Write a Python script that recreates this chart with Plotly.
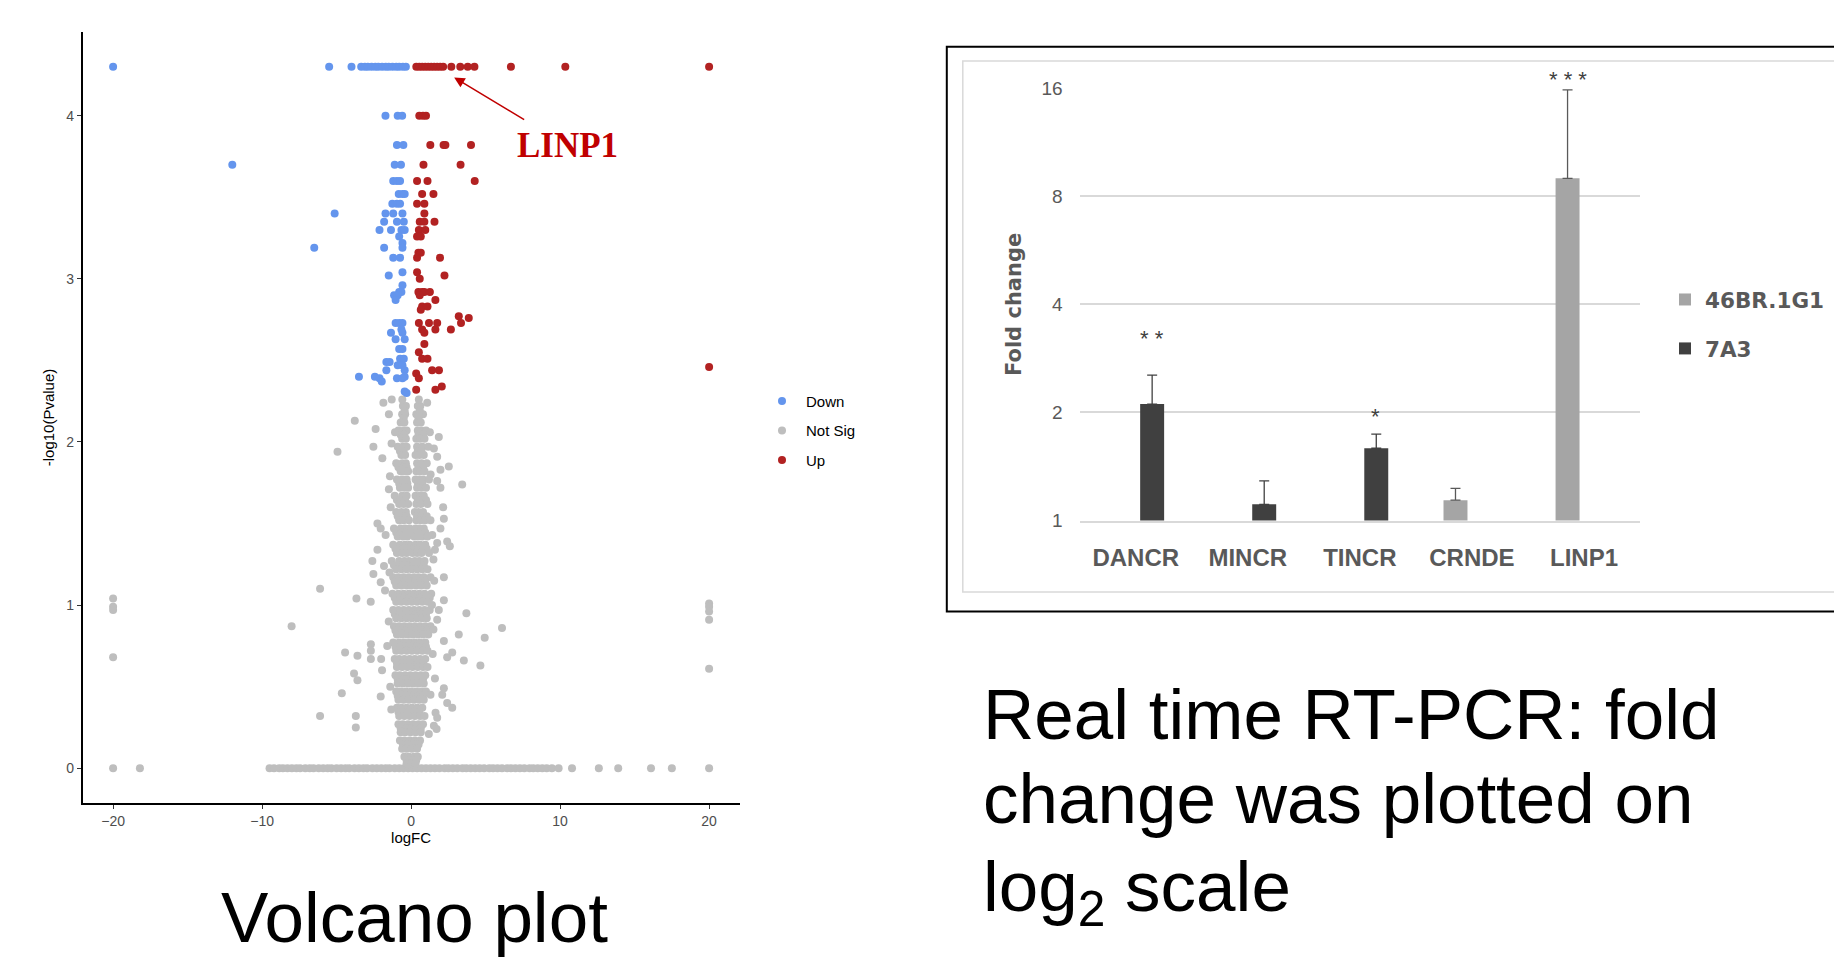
import math
import plotly.graph_objects as go

# ---------------- Volcano plot data ----------------
# Down-regulated (blue) points: (logFC, -log10 P)
down_pts = [
    (-20, 4.30), (-5.5, 4.30), (-4.0, 4.30), (-3.35, 4.30), (-3.1, 4.30), (-2.9, 4.30),
    (-2.65, 4.30), (-2.4, 4.30), (-2.2, 4.30), (-1.95, 4.30), (-1.7, 4.30), (-1.5, 4.30),
    (-1.25, 4.30), (-1.0, 4.30), (-0.8, 4.30), (-0.55, 4.30), (-0.35, 4.30),
    (-1.72, 4.0), (-0.9, 4.0), (-0.6, 4.0),
    (-0.95, 3.82), (-0.52, 3.82),
    (-12.0, 3.70), (-1.1, 3.70), (-0.68, 3.70),
    (-1.2, 3.60), (-0.95, 3.60), (-0.74, 3.60),
    (-0.83, 3.52), (-0.58, 3.52), (-0.43, 3.52),
    (-1.26, 3.46), (-0.95, 3.46), (-0.74, 3.46),
    (-5.13, 3.40), (-1.72, 3.40), (-1.2, 3.40), (-0.58, 3.40),
    (-1.81, 3.35), (-0.95, 3.35), (-0.49, 3.35),
    (-2.12, 3.30), (-1.35, 3.30), (-0.65, 3.30), (-0.43, 3.30),
    (-0.8, 3.26), (-0.58, 3.22),
    (-6.5, 3.19), (-1.81, 3.19), (-0.58, 3.19),
    (-1.2, 3.13), (-0.74, 3.13),
    (-0.58, 3.04), (-1.5, 3.02), (-0.58, 2.96),
    (-0.8, 2.92), (-0.65, 2.92), (-1.14, 2.90), (-0.9, 2.90), (-1.04, 2.87),
    (-1.04, 2.73), (-0.8, 2.73), (-0.58, 2.73), (-0.65, 2.69), (-1.35, 2.67), (-0.58, 2.67),
    (-1.04, 2.63), (-0.43, 2.63), (-0.8, 2.57), (-0.58, 2.57),
    (-0.74, 2.51), (-0.49, 2.51), (-1.66, 2.49), (-1.44, 2.49), (-0.9, 2.47), (-0.58, 2.47),
    (-1.66, 2.44), (-0.43, 2.44), (-3.5, 2.40), (-2.43, 2.40), (-0.43, 2.40),
    (-2.12, 2.39), (-0.95, 2.39), (-0.58, 2.39), (-1.97, 2.37), (-0.43, 2.31), (-0.3, 2.30),
]

# Up-regulated (red) points
up_pts = [
    (0.35, 4.30), (0.55, 4.30), (0.75, 4.30), (0.95, 4.30), (1.15, 4.30), (1.35, 4.30),
    (1.55, 4.30), (1.75, 4.30), (1.95, 4.30), (2.15, 4.30), (2.7, 4.30), (3.3, 4.30),
    (3.8, 4.30), (4.25, 4.30), (6.7, 4.30), (10.35, 4.30), (20, 4.30),
    (0.55, 4.0), (0.8, 4.0), (1.0, 4.0),
    (1.29, 3.82), (2.18, 3.82), (2.3, 3.82), (4.02, 3.82),
    (0.83, 3.70), (3.32, 3.70),
    (0.4, 3.60), (1.1, 3.60), (4.27, 3.60),
    (0.74, 3.52), (1.5, 3.52),
    (0.4, 3.46), (0.89, 3.46), (0.89, 3.40),
    (0.58, 3.35), (0.89, 3.35), (1.57, 3.35),
    (0.52, 3.30), (0.95, 3.30), (0.4, 3.26), (0.65, 3.26),
    (0.49, 3.16), (0.65, 3.16), (0.4, 3.13), (1.94, 3.13),
    (0.4, 3.04), (2.24, 3.02), (0.58, 3.0),
    (0.49, 2.92), (0.74, 2.92), (0.89, 2.92), (1.26, 2.92), (0.58, 2.90),
    (1.63, 2.87), (0.74, 2.83), (1.1, 2.83), (0.65, 2.81),
    (3.2, 2.77), (3.87, 2.76),
    (0.52, 2.73), (1.2, 2.73), (1.75, 2.73), (3.35, 2.73),
    (0.74, 2.69), (1.63, 2.69), (2.67, 2.69), (0.89, 2.67),
    (0.89, 2.60), (0.52, 2.55), (0.74, 2.51), (1.1, 2.51),
    (20, 2.46), (1.41, 2.44), (1.87, 2.44), (0.34, 2.42), (0.52, 2.39),
    (2.06, 2.34), (0.34, 2.32), (1.63, 2.32),
]

# Not significant (grey): the row at -log10 P = 0
ns_zero_x = [-20, -18.2, -9.5, -9.2, -8.85, -8.6, -8.3, -8.0, -7.7, -7.45, -7.1, -6.8,
             -6.55, -6.2, -5.9, -5.6, -5.35, -5.0, -4.7, -4.4, -4.15, -3.8, -3.5, -3.2,
             -2.95, -2.6, -2.3, -2.0, -1.7, -1.45, -1.1, -0.8, -0.5, -0.2, 0.1, 0.4,
             0.7, 1.0, 1.3, 1.6, 1.9, 2.25, 2.5, 2.8, 3.1, 3.45, 3.7, 4.0, 4.3, 4.6,
             4.9, 5.25, 5.5, 5.8, 6.1, 6.45, 6.7, 7.0, 7.3, 7.6, 7.95, 8.2, 8.5, 8.8,
             9.1, 9.45, 9.9, 10.8, 12.6, 13.9, 16.1, 17.5, 20]

# Not significant: dense central column, row by row (y, [x values])
ns_core_rows = [
    (2.22, [-0.55, -0.35, 0.45, 0.62]),
    (2.17, [-0.6, -0.4, 0.35, 0.55, 0.8]),
    (2.145, [-0.5, 0.5]),
    (2.12, [-0.7, -0.45, 0.4, 0.65]),
    (2.07, [-0.85, -0.5, -0.3, 0.45, 0.7, 1.0]),
    (2.045, [-0.7, -0.45, 0.5, 0.8]),
    (2.02, [-0.6, -0.35, 0.35, 0.6, 0.9]),
    (1.97, [-0.9, -0.55, -0.3, 0.4, 0.75, 1.15]),
    (1.945, [-0.75, -0.5, 0.45, 0.7]),
    (1.92, [-0.65, -0.4, 0.3, 0.55, 0.85]),
    (1.87, [-1.0, -0.6, -0.35, 0.4, 0.7, 1.05]),
    (1.845, [-0.85, -0.55, -0.3, 0.5, 0.8]),
    (1.82, [-0.7, -0.45, -0.2, 0.35, 0.6, 0.9]),
    (1.77, [-0.95, -0.6, -0.3, 0.3, 0.55, 0.8, 1.2]),
    (1.745, [-0.8, -0.55, -0.25, 0.45, 0.75]),
    (1.72, [-0.75, -0.45, -0.2, 0.4, 0.7, 1.0]),
    (1.67, [-1.1, -0.6, -0.3, 0.3, 0.6, 0.85]),
    (1.645, [-0.95, -0.7, -0.4, 0.45, 0.75, 1.0]),
    (1.62, [-0.8, -0.5, -0.2, 0.35, 0.65, 1.1]),
    (1.57, [-1.0, -0.65, -0.35, 0.25, 0.5, 0.8]),
    (1.545, [-0.9, -0.6, -0.3, 0.4, 0.7, 1.05]),
    (1.52, [-0.8, -0.5, -0.15, 0.35, 0.65, 0.95, 1.3]),
    (1.47, [-1.15, -0.7, -0.4, -0.1, 0.3, 0.55, 0.85]),
    (1.445, [-1.0, -0.65, -0.35, 0.0, 0.35, 0.65, 0.95]),
    (1.42, [-0.9, -0.55, -0.25, 0.2, 0.45, 0.75, 1.1]),
    (1.37, [-1.2, -0.75, -0.4, -0.1, 0.3, 0.6, 0.95]),
    (1.345, [-1.05, -0.8, -0.5, -0.2, 0.2, 0.5, 0.8, 1.05]),
    (1.32, [-0.95, -0.6, -0.3, 0.1, 0.4, 0.7, 1.2]),
    (1.27, [-1.3, -0.8, -0.45, -0.15, 0.25, 0.55, 0.9]),
    (1.245, [-1.15, -0.8, -0.5, -0.2, 0.15, 0.5, 0.85]),
    (1.22, [-1.0, -0.65, -0.3, 0.05, 0.4, 0.75, 1.1]),
    (1.17, [-1.2, -0.85, -0.5, -0.15, 0.2, 0.5, 0.85, 1.3]),
    (1.145, [-1.1, -0.8, -0.45, -0.1, 0.25, 0.6, 0.95]),
    (1.12, [-1.0, -0.65, -0.3, 0.0, 0.35, 0.7, 1.05]),
    (1.07, [-1.25, -0.85, -0.5, -0.15, 0.2, 0.55, 0.9, 1.35]),
    (1.045, [-1.1, -0.75, -0.45, -0.1, 0.25, 0.6, 1.0, 1.25]),
    (1.02, [-1.0, -0.65, -0.3, 0.05, 0.4, 0.75, 1.1]),
    (0.97, [-1.2, -0.85, -0.5, -0.15, 0.2, 0.55, 0.9, 1.25]),
    (0.945, [-1.1, -0.75, -0.4, -0.05, 0.3, 0.65, 1.0]),
    (0.92, [-1.0, -0.65, -0.3, 0.05, 0.4, 0.75, 1.05]),
    (0.87, [-1.15, -0.8, -0.45, -0.1, 0.25, 0.6, 0.95, 1.3]),
    (0.845, [-1.05, -0.7, -0.35, 0.0, 0.35, 0.7, 1.05]),
    (0.82, [-0.95, -0.6, -0.25, 0.1, 0.45, 0.8, 1.15]),
    (0.77, [-1.2, -0.8, -0.45, -0.1, 0.25, 0.6, 0.95]),
    (0.745, [-1.05, -0.7, -0.35, 0.0, 0.35, 0.7, 1.0]),
    (0.72, [-1.0, -0.65, -0.3, 0.05, 0.4, 0.75, 1.1]),
    (0.67, [-1.1, -0.8, -0.45, -0.1, 0.25, 0.6, 0.95]),
    (0.645, [-0.95, -0.6, -0.25, 0.1, 0.45, 0.8]),
    (0.62, [-0.95, -0.6, -0.25, 0.1, 0.45, 0.8, 1.1]),
    (0.57, [-1.05, -0.75, -0.4, -0.05, 0.3, 0.65, 0.95]),
    (0.545, [-0.9, -0.55, -0.2, 0.15, 0.5, 0.8]),
    (0.52, [-0.9, -0.55, -0.2, 0.15, 0.5, 0.85]),
    (0.47, [-1.0, -0.7, -0.35, 0.0, 0.35, 0.7, 1.0]),
    (0.445, [-0.9, -0.55, -0.2, 0.15, 0.5, 0.8]),
    (0.42, [-0.85, -0.5, -0.15, 0.2, 0.55, 0.85]),
    (0.37, [-0.95, -0.65, -0.3, 0.05, 0.4, 0.75]),
    (0.345, [-0.85, -0.5, -0.15, 0.2, 0.55]),
    (0.32, [-0.8, -0.45, -0.1, 0.25, 0.6, 0.9]),
    (0.27, [-0.85, -0.55, -0.2, 0.15, 0.5, 0.8]),
    (0.245, [-0.7, -0.35, 0.0, 0.35, 0.65]),
    (0.22, [-0.7, -0.4, -0.05, 0.3, 0.65]),
    (0.17, [-0.75, -0.45, -0.1, 0.25, 0.6]),
    (0.145, [-0.55, -0.2, 0.15, 0.5]),
    (0.12, [-0.6, -0.3, 0.05, 0.4]),
    (0.07, [-0.45, -0.15, 0.2, 0.45]),
    (0.05, [-0.3, 0.1, 0.35]),
    (0.03, [-0.3, 0.0, 0.3]),
]

# Not significant: scattered points
ns_scatter = [
    (-1.3, 2.26), (-1.86, 2.24), (-0.59, 2.26), (-0.43, 2.19), (0.52, 2.26), (0.59, 2.19),
    (1.08, 2.24), (-3.78, 2.13), (-2.38, 2.08), (-1.49, 2.17), (-1.08, 2.06), (-4.94, 1.94),
    (-2.53, 1.97), (-1.31, 1.99), (1.26, 2.06), (1.86, 2.03), (1.53, 1.96), (1.75, 1.91),
    (2.53, 1.85), (3.43, 1.74), (-1.93, 1.90), (-1.42, 1.79), (-1.49, 1.71), (1.31, 1.80),
    (1.97, 1.83), (1.75, 1.76), (1.97, 1.72), (-1.37, 1.60), (2.15, 1.60), (2.2, 1.53),
    (-2.26, 1.50), (-2.04, 1.47), (-1.71, 1.43), (1.97, 1.47), (1.42, 1.43), (2.42, 1.39),
    (2.6, 1.36), (1.75, 1.38), (1.6, 1.34), (1.5, 1.28), (-2.26, 1.34), (-2.6, 1.27),
    (-2.53, 1.19), (-1.82, 1.24), (2.2, 1.17), (-2.04, 1.14), (-1.75, 1.09), (-3.67, 1.04),
    (-2.71, 1.02), (2.2, 1.03), (3.71, 0.95), (1.86, 0.97), (1.75, 0.91), (6.1, 0.86),
    (4.94, 0.80), (3.2, 0.82), (2.2, 0.78), (-4.43, 0.71), (-3.6, 0.69), (-2.7, 0.76),
    (-2.7, 0.72), (-2.7, 0.67), (-2.01, 0.67), (-1.95, 0.60), (2.76, 0.71), (2.42, 0.68),
    (3.54, 0.66), (4.65, 0.63), (-3.83, 0.58), (-3.6, 0.54), (-4.65, 0.46), (-2.04, 0.44),
    (-1.33, 0.36), (-3.71, 0.32), (-3.71, 0.25), (2.2, 0.49), (2.09, 0.45), (2.42, 0.40),
    (2.76, 0.37), (1.64, 0.34), (1.75, 0.31), (1.53, 0.26), (1.71, 0.24), (1.19, 0.21),
    (-8.02, 0.87), (-6.11, 1.10), (-6.11, 0.32), (1.4, 1.0), (1.5, 0.85), (1.45, 0.7),
    (-1.5, 0.9), (-1.6, 0.75), (-1.45, 1.2), (1.55, 1.15), (1.6, 0.55), (-1.4, 0.5),
    (1.3, 0.45),
    (-20, 1.04), (-20, 0.99), (-20, 0.97), (-20, 0.68),
    (20, 1.01), (20, 0.99), (20, 0.96), (20, 0.91), (20, 0.61),
]

# ---------------- Real time RT-PCR data (fold change, log2 axis) ----------------
genes = ["DANCR", "MINCR", "TINCR", "CRNDE", "LINP1"]
fc_46br = [None, None, None, 1.14, 8.97]
err_46br = [None, None, None, 0.09, 6.84]
fc_7a3 = [2.11, 1.11, 1.59, None, None]
err_7a3 = [0.43, 0.18, 0.15, None, None]
fold_ticks = [1, 2, 4, 8, 16]
# (gene, label, fold-change level of the label, side of the group the bar is on)
star_labels = [("DANCR", "* *", 3.26, 1), ("TINCR", "*", 1.97, 1), ("LINP1", "* * *", 15.85, -1)]

# ---------------- build point lists ----------------
down_x = [p[0] for p in down_pts]
down_y = [p[1] for p in down_pts]
up_x = [p[0] for p in up_pts]
up_y = [p[1] for p in up_pts]
ns_x = list(ns_zero_x)
ns_y = [0.0] * len(ns_zero_x)
for yv, xs in ns_core_rows:
    ns_x += xs
    ns_y += [yv] * len(xs)
for xv, yv in ns_scatter:
    ns_x.append(xv)
    ns_y.append(yv)

W, H = 1834, 959
def fx(p):
    return p / W
def fy(p):
    return 1 - p / H

fig = go.Figure()
mk = dict(size=8, line=dict(width=0))
fig.add_trace(go.Scatter(x=ns_x, y=ns_y, mode="markers", name="Not Sig", legendrank=2,
                         legendgroup="ns", marker=dict(color="#BEBEBE", **mk), xaxis="x", yaxis="y"))
fig.add_trace(go.Scatter(x=down_x, y=down_y, mode="markers", name="Down", legendrank=1,
                         legendgroup="down", marker=dict(color="#6495ED", **mk), xaxis="x", yaxis="y"))
fig.add_trace(go.Scatter(x=up_x, y=up_y, mode="markers", name="Up", legendrank=3,
                         legendgroup="up", marker=dict(color="#B22222", **mk), xaxis="x", yaxis="y"))

err_plus_46 = [e if e is not None else 0 for e in err_46br]
err_plus_7a = [e if e is not None else 0 for e in err_7a3]
fig.add_trace(go.Bar(x=genes, y=fc_46br, name="46BR.1G1", marker=dict(color="#A5A5A5", line=dict(width=0)),
                     error_y=dict(type="data", symmetric=False, array=err_plus_46, arrayminus=[0] * 5,
                                  color="#595959", thickness=1.3, width=5),
                     xaxis="x2", yaxis="y2", legend="legend2", legendgroup="a", legendrank=1))
fig.add_trace(go.Bar(x=genes, y=fc_7a3, name="7A3", marker=dict(color="#404040", line=dict(width=0)),
                     error_y=dict(type="data", symmetric=False, array=err_plus_7a, arrayminus=[0] * 5,
                                  color="#404040", thickness=1.3, width=5),
                     xaxis="x2", yaxis="y2", legend="legend2", legendgroup="b", legendrank=2))

annotations = []
# LINP1 label with its arrow in the volcano plot
annotations.append(dict(x=2.89, y=4.235, xref="x", yref="y", ax=113.3, ay=68.5,
                        text="<b>LINP1</b>", showarrow=True, arrowhead=2, arrowsize=1.4,
                        arrowwidth=1.5, arrowcolor="#C00000", startstandoff=10,
                        font=dict(family="Liberation Serif", size=35, color="#C00000")))
# significance stars
for g, s, yv, side in star_labels:
    annotations.append(dict(x=g, y=math.log10(yv), xref="x2", yref="y2", text=s, showarrow=False,
                            xshift=16 * side, yshift=(10 if g == "LINP1" else -2),
                            font=dict(family="Liberation Sans", size=22, color="#404040"),
                            xanchor="center", yanchor="middle"))
# captions
annotations.append(dict(x=fx(414), y=fy(917), xref="paper", yref="paper", text="Volcano plot",
                        showarrow=False, xanchor="center", yanchor="middle",
                        font=dict(family="Liberation Sans", size=71, color="black")))
for txt, yc in [("Real time RT-PCR: fold", 714), ("change was plotted on", 798),
                ("log<sub>2</sub> scale", 892)]:
    annotations.append(dict(x=fx(981), y=fy(yc), xref="paper", yref="paper", text=txt,
                            showarrow=False, xanchor="left", yanchor="middle",
                            font=dict(family="Liberation Sans", size=71, color="black")))

shapes = [
    dict(type="rect", xref="paper", yref="paper", x0=fx(946.8), x1=1.02, y0=fy(611.6), y1=fy(46.7),
         line=dict(color="black", width=2), fillcolor="rgba(0,0,0,0)", layer="below"),
    dict(type="rect", xref="paper", yref="paper", x0=fx(962.8), x1=1.02, y0=fy(592), y1=fy(61),
         line=dict(color="#D9D9D9", width=1.5), fillcolor="rgba(0,0,0,0)", layer="below"),
]

fig.update_layout(
    width=W, height=H, margin=dict(l=0, r=0, t=0, b=0, pad=0, autoexpand=False), autosize=False,
    paper_bgcolor="white", plot_bgcolor="rgba(0,0,0,0)",
    font=dict(family="Liberation Sans, Arial, sans-serif", color="black"),
    barmode="group", bargap=0.414, bargroupgap=0.27,
    showlegend=True,
    xaxis=dict(domain=[fx(82.7), fx(739.5)], range=[-22.04, 22.04], tickvals=[-20, -10, 0, 10, 20],
               showline=True, linecolor="black", linewidth=1.6, ticks="outside", ticklen=4,
               tickwidth=1.2, tickcolor="#333333", showgrid=False, zeroline=False, anchor="y",
               automargin=False, tickfont=dict(size=14, color="#4D4D4D"),
               title=dict(text="logFC", font=dict(size=15, color="black"), standoff=3)),
    yaxis=dict(domain=[fy(803.3), fy(31.7)], range=[-0.215, 4.515], tickvals=[0, 1, 2, 3, 4],
               showline=True, linecolor="black", linewidth=1.6, ticks="outside", ticklen=4,
               tickwidth=1.2, tickcolor="#333333", showgrid=False, zeroline=False, anchor="x",
               automargin=False, tickfont=dict(size=14, color="#4D4D4D"),
               title=dict(text="-log10(Pvalue)", font=dict(size=15, color="black"), standoff=8)),
    xaxis2=dict(domain=[fx(1079.7), fx(1640)], anchor="y2", type="category",
                categoryorder="array", categoryarray=genes, showgrid=False, zeroline=False,
                showline=True, linecolor="#D9D9D9", linewidth=1.5, ticks="", automargin=False,
                tickfont=dict(family="Liberation Sans", size=24, color="#595959", weight="bold"),
                ticklabelstandoff=15),
    yaxis2=dict(domain=[fy(520.6), fy(88.1)], anchor="x2", type="log", range=[0, math.log10(16)],
                tickvals=fold_ticks, ticktext=[str(t) for t in fold_ticks],
                showgrid=True, gridcolor="#D9D9D9", gridwidth=1.5, showline=False, ticks="",
                zeroline=False, automargin=False,
                tickfont=dict(family="Liberation Sans", size=19, color="#595959"),
                ticklabelstandoff=16,
                title=dict(text="Fold change", standoff=14,
                           font=dict(family="DejaVu Sans", size=21, color="#595959", weight="bold"))),
    legend=dict(x=fx(758), xanchor="left", y=fy(430.7), yanchor="middle", itemwidth=38,
                font=dict(family="Liberation Sans", size=15, color="black"),
                bgcolor="rgba(0,0,0,0)", tracegroupgap=7, traceorder="grouped"),
    legend2=dict(x=fx(1665), xanchor="left", y=fy(324), yanchor="middle",
                 font=dict(family="DejaVu Sans", size=21.5, color="#595959", weight="bold"),
                 bgcolor="rgba(0,0,0,0)", tracegroupgap=18, traceorder="grouped"),
    annotations=annotations,
    shapes=shapes,
)

fig.write_html("out.html", config={"displayModeBar": False},
               post_script="document.body.style.margin='0';document.body.style.overflow='hidden';")
